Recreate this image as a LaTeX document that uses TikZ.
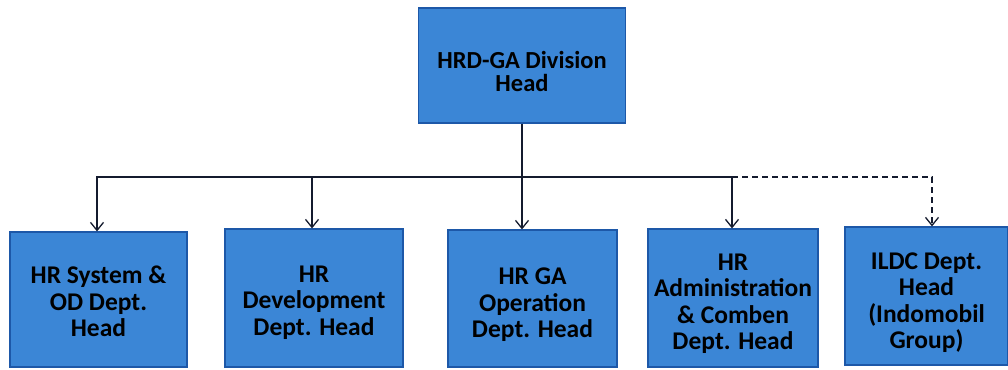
\documentclass[tikz,border=0pt]{standalone}
\usepackage{fontspec}
\setmainfont{Carlito}
\usetikzlibrary{arrows.meta}
\definecolor{boxfill}{HTML}{3B86D6}
\definecolor{boxline}{HTML}{1D58A8}
\definecolor{wire}{HTML}{141B2E}
\newcommand{\boxtext}[3]{\raisebox{#1}[0pt][0pt]{\parbox{#2}{\centering #3}}}
\tikzset{
  orgbox/.style={draw=boxline, line width=1.2pt, fill=boxfill, inner sep=0pt, align=center,
    font=\bfseries\fontsize{25.5}{26.5}\selectfont, text=black},
  wirestyle/.style={draw=wire, line width=1.3pt},
  arr/.style={-{Straight Barb[length=8pt,width=13pt,line width=1.3pt]}},
}
\begin{document}
\begin{tikzpicture}[x=1pt,y=-1pt]
\useasboundingbox (0,0) rectangle (1008,369);
\node[orgbox, minimum width=207pt, minimum height=115pt, font=\bfseries\fontsize{24.5}{23}\selectfont] (top) at (522,65.5) {\boxtext{-12.5pt}{200pt}{HRD-GA Division\\Head}};
\node[orgbox, minimum width=177pt, minimum height=135pt] (b1) at (98.5,299.5) {\boxtext{-8.5pt}{170pt}{HR System \&\\OD Dept.\\Head}};
\node[orgbox, minimum width=178pt, minimum height=138pt] (b2) at (314,298) {\boxtext{-10.5pt}{170pt}{HR\\Development\\Dept. Head}};
\node[orgbox, minimum width=169pt, minimum height=137pt] (b3) at (532.5,298.5) {\boxtext{-12.5pt}{165pt}{HR GA\\Operation\\Dept. Head}};
\node[orgbox, minimum width=170pt, minimum height=138pt] (b4) at (733,298) {\boxtext{-12pt}{165pt}{HR\\Administration\\\& Comben\\Dept. Head}};
\node[orgbox, minimum width=163pt, minimum height=138pt] (b5) at (926.5,296) {\boxtext{-13pt}{160pt}{ILDC Dept.\\Head\\(Indomobil\\Group)}};
\coordinate (bus) at (522,177);
\coordinate (t1) at ([xshift=-1.5pt]b1.north);
\coordinate (t2) at ([xshift=-2pt]b2.north);
\coordinate (t3) at (522,0 |- b3.north);
\coordinate (t4) at ([xshift=-1pt]b4.north);
\coordinate (t5) at ([xshift=5.5pt]b5.north);
\coordinate (j4) at (t4 |- bus);
\draw[wirestyle] (top.south) -- (bus);
\draw[wirestyle, arr] (bus) -| (t1);
\draw[wirestyle, arr] (bus) -| (t2);
\draw[wirestyle, arr] (bus) -- (t3);
\draw[wirestyle, arr] (bus) -| (t4);
\draw[wirestyle, arr, dash pattern=on 6pt off 4pt] (j4) -| (t5);
\end{tikzpicture}
\end{document}
